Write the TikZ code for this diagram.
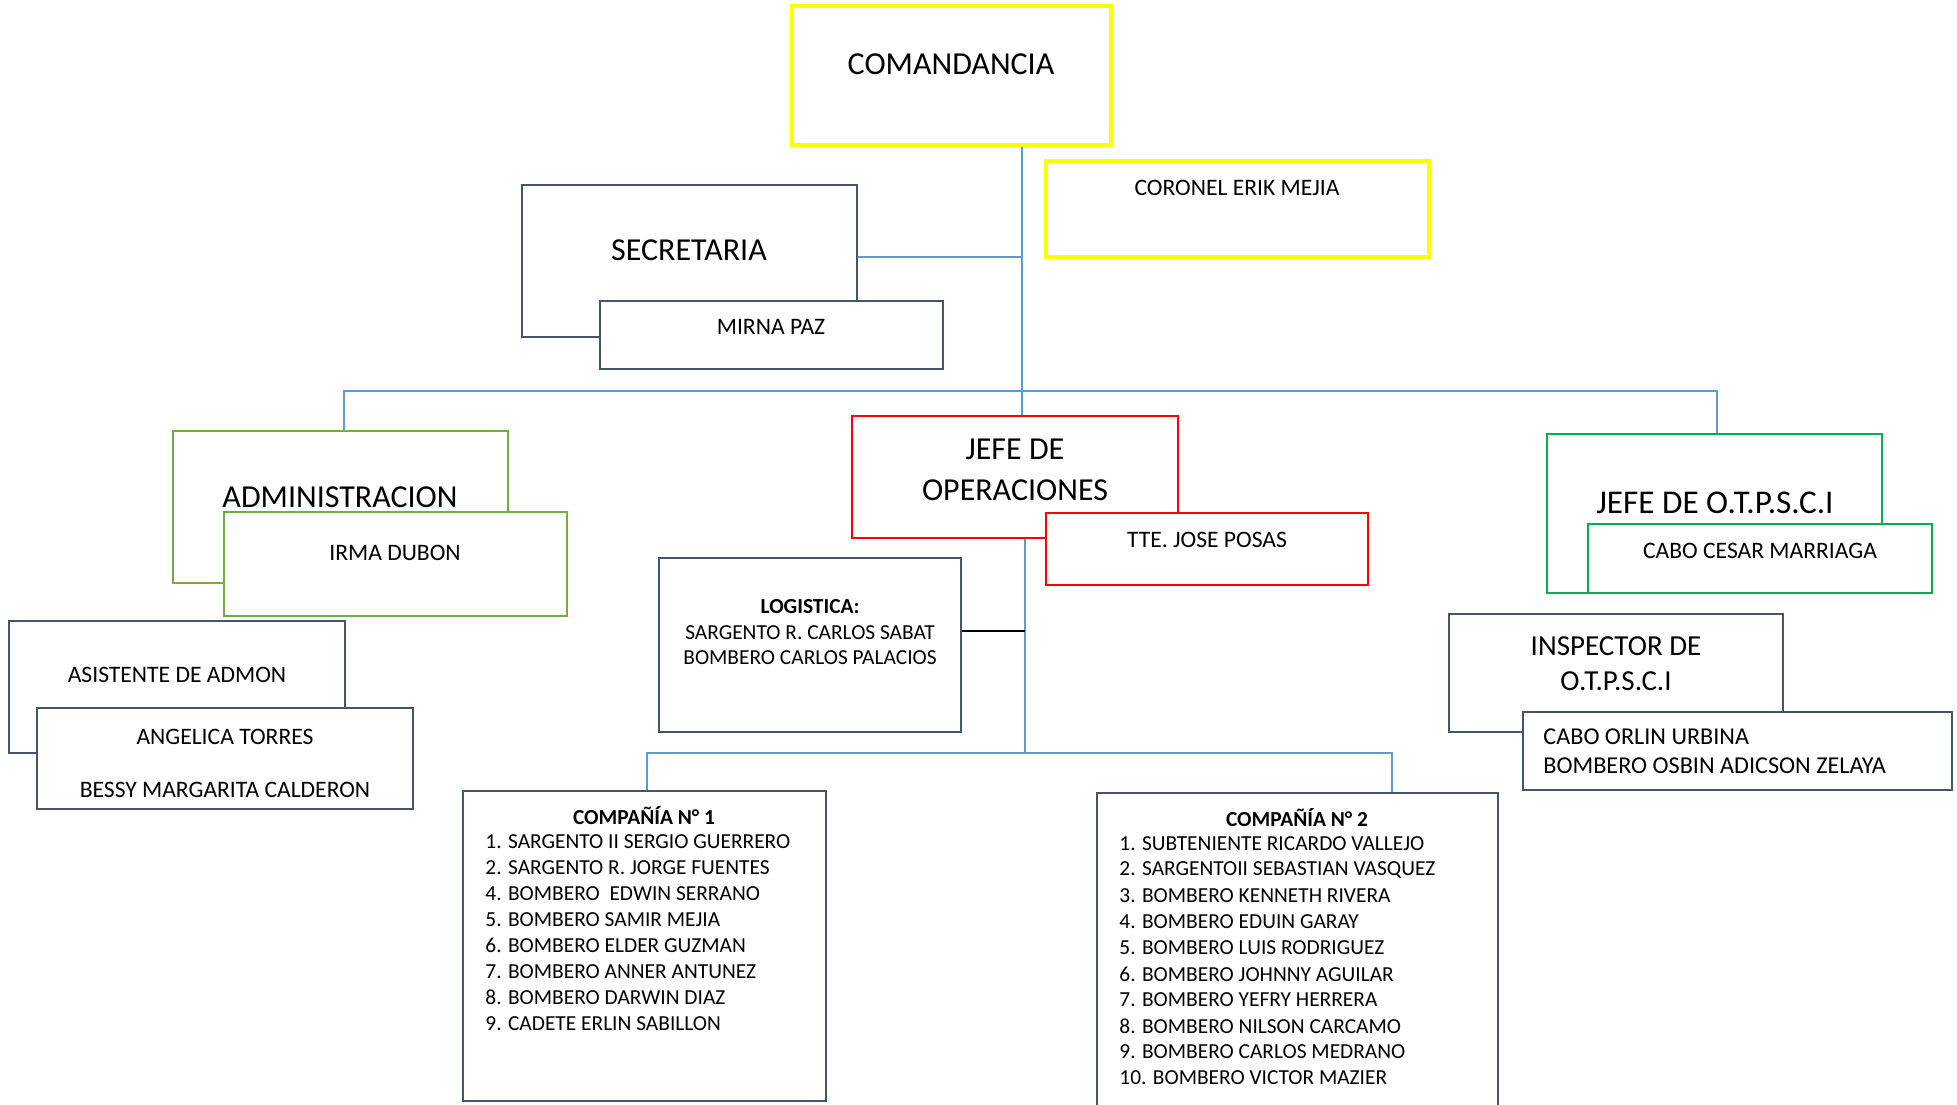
\documentclass[tikz,border=0pt]{standalone}
\usepackage{fontspec}
\setmainfont{Carlito}
\usetikzlibrary{fit}

\definecolor{cmdyellow}{HTML}{FFFF00}
\definecolor{slate}{HTML}{44546A}
\definecolor{admgreen}{HTML}{70AD47}
\definecolor{opred}{HTML}{FF0000}
\definecolor{otpgreen}{HTML}{00B050}
\definecolor{linkblue}{HTML}{5B9BD5}

\begin{document}
\begin{tikzpicture}[x=0.5pt, y=-0.5pt,
  orgbox/.style={draw, fill=white, line width=1.4pt, inner sep=0pt},
  yellowbox/.style={orgbox, draw=cmdyellow, line width=1.8pt},
  slatebox/.style={orgbox, draw=slate},
  admbox/.style={orgbox, draw=admgreen},
  redbox/.style={orgbox, draw=opred},
  otpbox/.style={orgbox, draw=otpgreen},
  titlefont/.style={font=\fontsize{16}{19}\selectfont, inner sep=0pt},
  subfont/.style={font=\fontsize{14.5}{17}\selectfont, inner sep=0pt},
  personfont/.style={font=\fontsize{11.8}{14}\selectfont, inner sep=0pt},
  listfont/.style={font=\fontsize{10.7}{13}\selectfont, inner sep=0pt},
  link/.style={draw=linkblue, line width=0.8pt},
  tie/.style={draw=black, line width=0.9pt}]
  \useasboundingbox (0,0) rectangle (1957,1104);
  \clip (0,0) rectangle (1957,1104);

  % top
  \node[yellowbox, fit={(792,6) (1111,145)}] (comandancia) {};
  \node[titlefont] (comandancia-t) at (951,64) {COMANDANCIA};
  \node[yellowbox, fit={(1046,161) (1429,257)}] (coronel) {};
  \node[personfont] (coronel-t) at (1237,188) {CORONEL ERIK MEJIA};

  \node[slatebox, fit={(522,185) (857,337)}] (secretaria) {};
  \node[titlefont] (secretaria-t) at (689,250) {SECRETARIA};
  \node[slatebox, fit={(600,301) (943,369)}] (mirna) {};
  \node[personfont] (mirna-t) at (771,327) {MIRNA PAZ};

  % second row
  \node[admbox, fit={(173,431) (508,583)}] (admin) {};
  \node[titlefont] (admin-t) at (340,497) {ADMINISTRACION};
  \node[admbox, fit={(224,512) (567,616)}] (irma) {};
  \node[personfont] (irma-t) at (395,553) {IRMA DUBON};

  \node[redbox, fit={(852,416) (1178,538)}] (jefeop) {};
  \node[titlefont] (jefeop-t1) at (1015,449) {JEFE DE};
  \node[titlefont] (jefeop-t2) at (1015,490) {OPERACIONES};
  \node[redbox, fit={(1046,513) (1368,585)}] (tte) {};
  \node[personfont] (tte-t) at (1207,540) {TTE. JOSE POSAS};

  \node[otpbox, fit={(1547,434) (1882,593)}] (otpsci) {};
  \node[titlefont, font=\fontsize{16.6}{19}\selectfont] (otpsci-t) at (1715,503) {JEFE DE O.T.P.S.C.I};
  \node[otpbox, fit={(1588,524) (1932,593)}] (cesar) {};
  \node[personfont] (cesar-t) at (1760,551) {CABO CESAR MARRIAGA};

  % third row
  \node[slatebox, fit={(9,621) (345,753)}] (asist) {};
  \node[personfont] (asist-t) at (177,675) {ASISTENTE DE ADMON};
  \node[slatebox, fit={(37,708) (413,809)}] (angelica) {};
  \node[personfont] (angelica-t) at (225,737) {ANGELICA TORRES};
  \node[personfont] (bessy-t) at (225,790) {BESSY MARGARITA CALDERON};

  \node[slatebox, fit={(659,558) (961,732)}] (logistica) {};
  \node[listfont, font=\fontsize{10.7}{13}\selectfont\bfseries] (logistica-t) at (810,607) {LOGISTICA:};
  \node[listfont] (sabat-t) at (810,633) {SARGENTO R. CARLOS SABAT};
  \node[listfont] (palacios-t) at (810,658) {BOMBERO CARLOS PALACIOS};

  \node[slatebox, fit={(1449,614) (1783,732)}] (inspector) {};
  \node[subfont] (inspector-t1) at (1616,646) {INSPECTOR DE};
  \node[subfont] (inspector-t2) at (1616,681) {O.T.P.S.C.I};
  \node[slatebox, fit={(1523,712) (1952,790)}] (orlin) {};
  \node[personfont, font=\fontsize{12.1}{14}\selectfont, anchor=west] (orlin-t1) at (1543,737) {CABO ORLIN URBINA};
  \node[personfont, font=\fontsize{12.1}{14}\selectfont, anchor=west] (orlin-t2) at (1543,766) {BOMBERO OSBIN ADICSON ZELAYA};

  % companies
  \node[slatebox, fit={(463,791) (826,1101)}] (comp1) {};
  \node[listfont, font=\fontsize{10.7}{13}\selectfont\bfseries] (comp1-t) at (644,816) {COMPAÑÍA N° 1};
  \foreach \t [count=\k] in {1. SARGENTO II SERGIO GUERRERO, 2. SARGENTO R. JORGE FUENTES,
      4. BOMBERO\ \ EDWIN SERRANO, 5. BOMBERO SAMIR MEJIA, 6. BOMBERO ELDER GUZMAN,
      7. BOMBERO ANNER ANTUNEZ, 8. BOMBERO DARWIN DIAZ, 9. CADETE ERLIN SABILLON} {
    \node[listfont, anchor=west] (c1-\k) at (485, {842+25.9*(\k-1)}) {\t};
  }

  \node[slatebox, fit={(1097,793) (1498,1120)}] (comp2) {};
  \node[listfont, font=\fontsize{10.7}{13}\selectfont\bfseries] (comp2-t) at (1297,818) {COMPAÑÍA N° 2};
  \foreach \t [count=\k] in {1. SUBTENIENTE RICARDO VALLEJO, 2. SARGENTOII SEBASTIAN VASQUEZ,
      3. BOMBERO KENNETH RIVERA, 4. BOMBERO EDUIN GARAY, 5. BOMBERO LUIS RODRIGUEZ,
      6. BOMBERO JOHNNY AGUILAR, 7. BOMBERO YEFRY HERRERA, 8. BOMBERO NILSON CARCAMO,
      9. BOMBERO CARLOS MEDRANO, 10. BOMBERO VICTOR MAZIER} {
    \node[listfont, anchor=west] (c2-\k) at (1119, {844+26*(\k-1)}) {\t};
  }

  % connectors
  \coordinate (trunk) at (1022,391);
  \coordinate (sectap) at (1022,257);
  \coordinate (admdrop) at (344,391);
  \coordinate (otpdrop) at (1717,391);
  \coordinate (opsdrop) at (1025,753);
  \coordinate (logtap) at (1025,631);
  \coordinate (c1drop) at (647,753);
  \coordinate (c2drop) at (1392,753);
  \draw[link] (comandancia.south -| trunk) -- (jefeop.north -| trunk);
  \draw[link] (secretaria.east |- sectap) -- (sectap);
  \draw[link] (admin.north -| admdrop) -- (admdrop) -- (otpdrop) -- (otpdrop |- otpsci.north);
  \draw[link] (jefeop.south -| opsdrop) -- (opsdrop);
  \draw[link] (comp1.north -| c1drop) -- (c1drop) -- (c2drop) -- (c2drop |- comp2.north);
  \draw[tie] (logistica.east |- logtap) -- (logtap);
\end{tikzpicture}
\end{document}
